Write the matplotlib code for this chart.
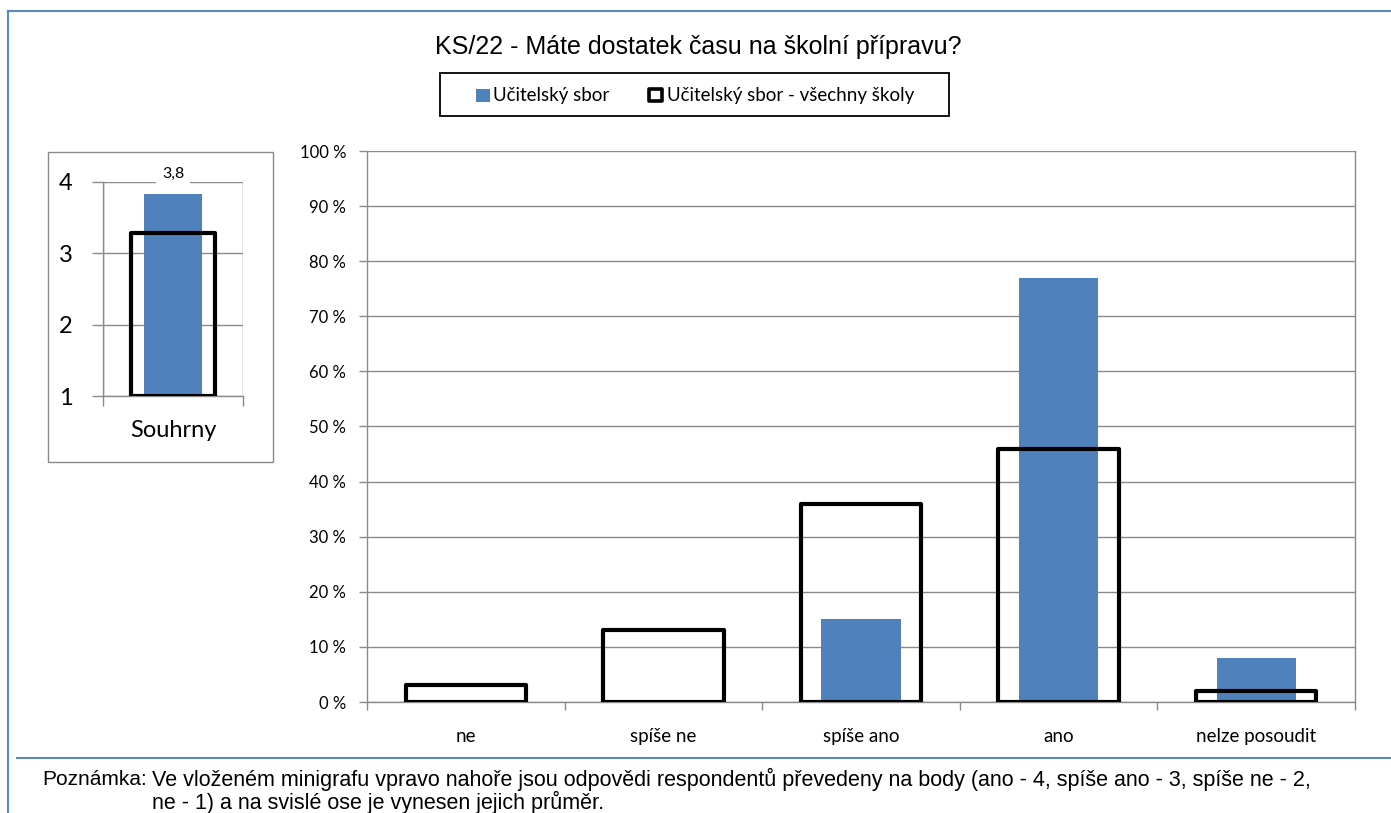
import matplotlib
matplotlib.use("Agg")
import matplotlib.pyplot as plt
from matplotlib.patches import Rectangle
from matplotlib.lines import Line2D
import numpy as np

# data
categories = ["ne", "spíše ne", "spíše ano", "ano", "nelze posoudit"]
school_pct = [0, 0, 15, 77, 8]
all_schools_pct = [3, 13, 36, 46, 2]
summary_school = 3.83
summary_all = 3.28
summary_label = "3,8"
y_ticks_pct = [0, 10, 20, 30, 40, 50, 60, 70, 80, 90, 100]
mini_ticks = [1, 2, 3, 4]

title = "KS/22 - Máte dostatek času na školní přípravu?"
legend_labels = ["Učitelský sbor", "Učitelský sbor - všechny školy"]
note_head = "Poznámka:"
note_lines = ["Ve vloženém minigrafu vpravo nahoře jsou odpovědi respondentů převedeny na body (ano - 4, spíše ano - 3, spíše ne - 2,",
              "ne - 1) a na svislé ose je vynesen jejich průměr."]

BLUE = "#4f81bd"
GRID = "#8a8a8a"
FRAME = "#5b87c2"
W, H = 1391, 813

plt.rcParams.update({"font.family": ["Lato", "DejaVu Sans"]})

fig = plt.figure(figsize=(W / 100, H / 100), dpi=100)


def fx(px):
    return px / W


def fy(py):
    return 1 - py / H


# outer frame and separator
fig.add_artist(Line2D([fx(8), fx(8)], [fy(11), 0], color=FRAME, lw=1.5))
fig.add_artist(Line2D([fx(8), 1], [fy(11), fy(11)], color=FRAME, lw=1.5))
fig.add_artist(Line2D([fx(17), 1], [fy(758), fy(758)], color=FRAME, lw=1.5))

fig.text(fx(698), fy(47), title, ha="center", va="center", fontsize=18,
         family=["Liberation Sans", "DejaVu Sans"])

# main chart
ax = fig.add_axes([fx(367), fy(702), fx(1355) - fx(367), fy(151) - fy(702)])
x = np.arange(len(categories))
ax.bar(x, school_pct, width=0.4, color=BLUE, zorder=2)
ax.bar(x, all_schools_pct, width=0.61, facecolor="none", edgecolor="black",
       linewidth=3.0, joinstyle="round", zorder=3)
ax.set_xlim(-0.5, len(categories) - 0.5)
ax.set_ylim(0, 100)
ax.set_yticks(y_ticks_pct)
ax.set_yticklabels([f"{v} %" for v in y_ticks_pct])
ax.set_xticks(np.arange(-0.5, len(categories), 1.0))
ax.set_xticklabels([])
ax.set_xticks(x, minor=True)
ax.set_xticklabels(categories, minor=True)
ax.tick_params(axis="x", which="minor", length=0, pad=19, labelsize=13.5)
ax.tick_params(axis="x", which="major", length=6, color=GRID, width=1.0)
ax.tick_params(axis="y", length=6, color=GRID, width=1.0, labelsize=12, pad=9)
ax.grid(axis="y", color=GRID, linewidth=1.0, zorder=0)
ax.set_axisbelow(True)
for s in ["left", "bottom", "right"]:
    ax.spines[s].set_color(GRID)
    ax.spines[s].set_linewidth(1.0)
ax.spines["top"].set_visible(False)

# mini chart box
fig.add_artist(Rectangle((fx(48), fy(462)), fx(273) - fx(48), fy(152) - fy(462),
                         transform=fig.transFigure, facecolor="none",
                         edgecolor=GRID, linewidth=1.0))

mx = fig.add_axes([fx(103), fy(396), fx(243) - fx(103), fy(182) - fy(396)])
mx.bar([0], [summary_school - 1], bottom=1, width=0.41, color=BLUE, zorder=2)
mx.bar([0], [summary_all - 1], bottom=1, width=0.6, facecolor="none",
       edgecolor="black", linewidth=3.0, joinstyle="round", zorder=3)
mx.set_xlim(-0.5, 0.5)
mx.set_ylim(1, 4)
mx.set_yticks(mini_ticks)
mx.set_xticks([-0.5, 0.5])
mx.set_xticklabels([])
mx.set_xticks([0], minor=True)
mx.set_xticklabels(["Souhrny"], minor=True)
mx.tick_params(axis="x", which="minor", length=0, pad=17, labelsize=17)
mx.tick_params(axis="x", which="major", length=7, color=GRID, width=1.0)
mx.tick_params(axis="y", length=8, color=GRID, width=1.0, labelsize=17, pad=19)
for lab in mx.get_yticklabels():
    lab.set_horizontalalignment("center")
mx.grid(axis="y", color=GRID, linewidth=1.0, zorder=0)
mx.grid(axis="x", which="major", color=GRID, linewidth=1.0, zorder=0)
mx.set_axisbelow(True)
for s in ["left", "bottom"]:
    mx.spines[s].set_color(GRID)
    mx.spines[s].set_linewidth(1.0)
mx.spines["top"].set_visible(False)
mx.spines["right"].set_visible(False)
mx.annotate(summary_label, xy=(0.5, 1.0), xycoords="axes fraction",
            xytext=(0, 6), textcoords="offset points", ha="center", va="center",
            fontsize=11.5, zorder=5,
            bbox=dict(facecolor="white", edgecolor="none", pad=4))

# legend (drawn by hand to get Excel's wide frame and tight entries)
fig.add_artist(Rectangle((fx(440), fy(116)), fx(949) - fx(440), fy(73) - fy(116),
                         transform=fig.transFigure, facecolor="white",
                         edgecolor="black", linewidth=1.3))
fig.add_artist(Rectangle((fx(476), fy(102)), fx(490) - fx(476), fy(89) - fy(102),
                         transform=fig.transFigure, facecolor=BLUE, edgecolor="none"))
fig.add_artist(Rectangle((fx(649), fy(101)), fx(662) - fx(649), fy(89) - fy(101),
                         transform=fig.transFigure, facecolor="white",
                         edgecolor="black", linewidth=2.6, joinstyle="round"))
fig.text(fx(493), fy(95), legend_labels[0], ha="left", va="center", fontsize=13.5)
fig.text(fx(667), fy(95), legend_labels[1], ha="left", va="center", fontsize=13.5)

# note
nfont = ["Liberation Sans", "DejaVu Sans"]
fig.text(fx(42), fy(779), note_head, ha="left", va="center", fontsize=15, family=nfont)
fig.text(fx(152), fy(779), note_lines[0], ha="left", va="center", fontsize=15.5, family=nfont)
fig.text(fx(152), fy(802), note_lines[1], ha="left", va="center", fontsize=15.5, family=nfont)

fig.savefig("out.png", dpi=100)
